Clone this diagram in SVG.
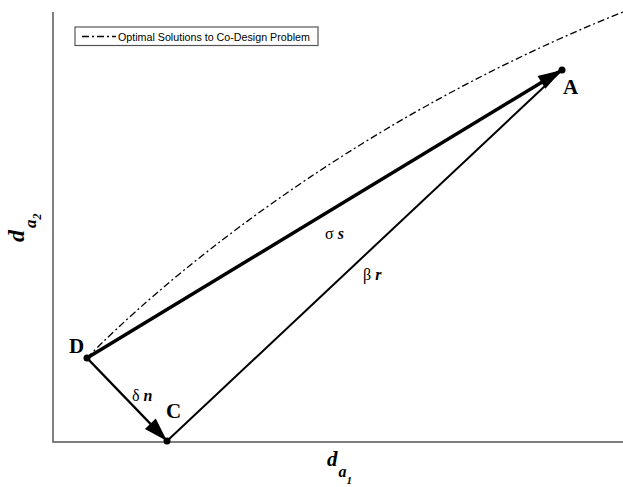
<svg xmlns="http://www.w3.org/2000/svg" width="623" height="487" viewBox="0 0 623 487">
<style>
.axis{stroke:#555;stroke-width:1.5;fill:none}
.curve{stroke:#000;stroke-width:1.3;fill:none;stroke-dasharray:7 3 2 3}
.vec{stroke:#000;fill:none}
.lbl{font-family:"Liberation Serif",serif;font-weight:bold;font-size:21px;fill:#000}
.greek{font-family:"Liberation Serif",serif;font-size:16px;fill:#000}
.bi{font-weight:bold;font-style:italic}
.ax{font-family:"Liberation Serif",serif;font-weight:bold;font-style:italic;fill:#000}
.leg{font-family:"Liberation Sans",Arial,sans-serif;font-size:10.7px;fill:#000}
</style>
<defs>
<marker id="ah" markerUnits="userSpaceOnUse" viewBox="-26 -8 28 16" refX="0" refY="0" markerWidth="28" markerHeight="16" orient="auto" overflow="visible">
<path d="M0,0 L-24,-7.5 L-24,7.5 Z" fill="#000"/>
</marker>
</defs>
<rect width="623" height="487" fill="#fff"/>
<g id="axes">
<path class="axis" d="M53,12 V442 H623"/>
</g>
<g id="legend">
<rect x="75" y="27" width="243" height="18.5" fill="#fff" stroke="#555" stroke-width="1.2"/>
<line x1="82" y1="36.5" x2="116" y2="36.5" stroke="#000" stroke-width="1.3" stroke-dasharray="7 3 2 3"/>
<text class="leg" x="118" y="40.5">Optimal Solutions to Co-Design Problem</text>
</g>
<g id="optimal-curve">
<path class="curve" d="M87,358 C150,293 340,125 623,12"/>
</g>
<g id="connectors">
<line id="sigma-s" class="vec" x1="87" y1="358" x2="562" y2="70" stroke-width="3.5" marker-end="url(#ah)"/>
<line id="delta-n" class="vec" x1="87" y1="358" x2="167" y2="441" stroke-width="2.5" marker-end="url(#ah)"/>
<line id="beta-r" class="vec" x1="167" y1="441" x2="562" y2="70" stroke-width="2"/>
</g>
<g id="node-D">
<circle cx="87" cy="358" r="3.5" fill="#000"/>
<text class="lbl" x="69" y="353" font-size="22">D</text>
</g>
<g id="node-C">
<circle cx="167" cy="441" r="3.5" fill="#000"/>
<text class="lbl" x="166" y="418">C</text>
</g>
<g id="node-A">
<circle cx="562" cy="70" r="3.5" fill="#000"/>
<text class="lbl" x="563" y="94">A</text>
</g>
<g id="labels">
<text class="greek" x="325" y="239">σ <tspan class="bi">s</tspan></text>
<text class="greek" x="363" y="280">β <tspan class="bi">r</tspan></text>
<text class="greek" x="132" y="401">δ <tspan class="bi">n</tspan></text>
</g>
<g id="axis-labels">
<text class="ax" x="327" y="466" font-size="21">d<tspan font-size="16" dx="1" dy="11">a</tspan><tspan font-size="11" dx="0" dy="7">1</tspan></text>
<text class="ax" transform="translate(24,242) rotate(-90)" font-size="24">d<tspan font-size="17" dx="2" dy="12">a</tspan><tspan font-size="12" dx="0" dy="5">2</tspan></text>
</g>
</svg>
